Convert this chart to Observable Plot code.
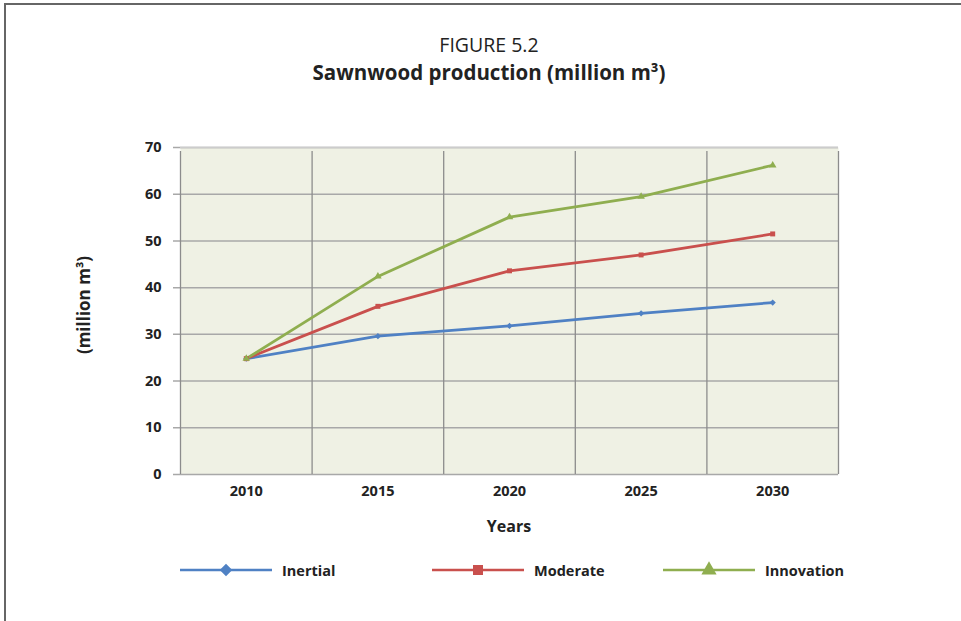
<!DOCTYPE html>
<html>
<head>
<meta charset="utf-8">
<script src="https://cdn.jsdelivr.net/npm/d3@7"></script>
<script src="https://cdn.jsdelivr.net/npm/@observablehq/plot@0.6"></script>
<style>
  html, body { margin: 0; padding: 0; background: #fff; }
  #page { position: relative; width: 961px; height: 621px; overflow: hidden; font-family: "Open Sans", "Noto Sans", sans-serif; color: #222; }
  #frame { position: absolute; left: 4px; top: 3px; width: 970px; height: 640px; border-top: 2px solid #666; border-left: 2px solid #666; }
  .t1 { position: absolute; left: 289px; width: 400px; text-align: center; top: 31px; font-size: 19.5px; font-weight: 400; }
  .t2 { position: absolute; left: 189px; width: 600px; text-align: center; top: 58px; font-size: 20.5px; font-weight: 700; }
  #chart { position: absolute; left: 0; top: 130px; }
  .ylab { position: absolute; left: 83px; top: 305px; transform: translate(-50%, -50%) rotate(-90deg); font-size: 17px; font-weight: 700; white-space: nowrap; }
  .xlab { position: absolute; left: 509px; top: 526px; transform: translate(-50%, -50%); font-size: 16px; font-weight: 700; }
  .leg { position: absolute; top: 560px; height: 20px; display: flex; align-items: center; font-size: 14.5px; font-weight: 700; }
  .leg svg { margin-right: 10px; }
</style>
</head>
<body>
<div id="page">
  <div id="frame"></div>
  <div class="t1">FIGURE 5.2</div>
  <div class="t2">Sawnwood production (million m³)</div>
  <div id="chart"></div>
  <div class="ylab">(million m³)</div>
  <div class="xlab">Years</div>
  <div id="legend"></div>
</div>
<script>
const years = [2010, 2015, 2020, 2025, 2030];
const inertial = [24.8, 29.6, 31.8, 34.5, 36.8];
const moderate = [24.8, 36.0, 43.6, 47.0, 51.5];
const innovation = [24.8, 42.4, 55.1, 59.5, 66.2];
const seriesNames = ["Inertial", "Moderate", "Innovation"];
const seriesColors = ["#4f81c4", "#c9504d", "#8fae4f"];
const seriesSymbols = ["diamond2", "square", "triangle"];
const yTicks = [0, 10, 20, 30, 40, 50, 60, 70];
const bandEdges = [2007.5, 2012.5, 2017.5, 2022.5, 2027.5, 2032.5];

const seriesValues = [inertial, moderate, innovation];
const table = [];
seriesNames.forEach((s, i) => years.forEach((y, j) => table.push({series: s, year: y, value: seriesValues[i][j]})));

const chart = Plot.plot({
  width: 961,
  height: 420,
  marginLeft: 180,
  marginRight: 123,
  marginTop: 17,
  marginBottom: 76,
  style: {fontFamily: "'Open Sans', 'Noto Sans', sans-serif", color: "#222", background: "transparent"},
  x: {domain: [2007.5, 2032.5]},
  y: {domain: [0, 70]},
  color: {domain: seriesNames, range: seriesColors},
  symbol: {domain: seriesNames, range: seriesSymbols},
  marks: [
    Plot.frame({fill: "#eff1e4", stroke: null}),
    Plot.ruleY(yTicks, {stroke: "#a8a8a8", strokeWidth: 1.5, insetLeft: -7}),
    Plot.ruleX(bandEdges, {y1: 0, y2: 70, stroke: "#8c8c8c", strokeWidth: 1.3, insetBottom: -4}),
    Plot.ruleY([70], {stroke: "#cccccc", strokeWidth: 1.5}),
    Plot.line(table, {x: "year", y: "value", z: "series", stroke: "series", strokeWidth: 2.8}),
    Plot.dot(table, {x: "year", y: "value", fill: "series", symbol: "series", r: 2.8, stroke: null}),
    Plot.axisY({ticks: yTicks, tickSize: 0, tickPadding: 19, fontSize: 14.5, fontWeight: 700, label: null}),
    Plot.axisX({ticks: years, tickFormat: d => String(d), tickSize: 0, tickPadding: 11, fontSize: 14.5, fontWeight: 700, label: null})
  ]
});
document.getElementById("chart").appendChild(chart);

// legend
const legendX = [180, 432, 663];
const legend = document.getElementById("legend");
seriesNames.forEach((name, i) => {
  const item = document.createElement("div");
  item.className = "leg";
  item.style.left = legendX[i] + "px";
  const svg = d3.create("svg").attr("width", 92).attr("height", 20);
  svg.append("line").attr("x1", 0).attr("x2", 92).attr("y1", 10).attr("y2", 10)
     .attr("stroke", seriesColors[i]).attr("stroke-width", 2.6);
  const sym = d3.symbol().type([d3.symbolDiamond2, d3.symbolSquare, d3.symbolTriangle][i]).size(100);
  svg.append("path").attr("d", sym()).attr("transform", "translate(46,10)").attr("fill", seriesColors[i]);
  item.appendChild(svg.node());
  const span = document.createElement("span");
  span.textContent = name;
  item.appendChild(span);
  legend.appendChild(item);
});
</script>
</body>
</html>
